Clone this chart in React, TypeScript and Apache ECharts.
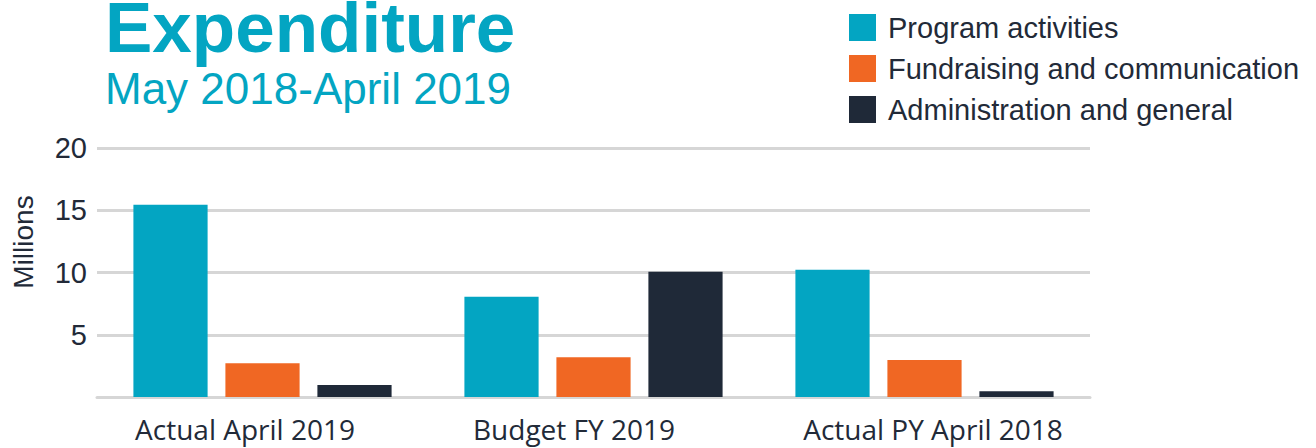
import React, { useEffect, useRef } from "react";
import * as echarts from "echarts";

const categories = ["Actual April 2019", "Budget FY 2019", "Actual PY April 2018"];
const seriesNames = ["Program activities", "Fundraising and communication", "Administration and general"];
const programValues = [15.45, 8.05, 10.22];
const fundraisingValues = [2.72, 3.2, 2.97];
const adminValues = [0.97, 10.07, 0.47];
const yTicks = [0, 5, 10, 15, 20];
const colors = ["#03A5C2", "#F06723", "#1F2938"];

const FONT = "'Liberation Sans', Arial, sans-serif";
const LABEL_FONT = "'Open Sans', 'Liberation Sans', sans-serif";
const TEXT = "#222a38";
const TEAL = "#03A5C2";

export default function App() {
  const ref = useRef<HTMLDivElement>(null);
  useEffect(() => {
    document.body.style.margin = "0";
    const chart = echarts.init(ref.current!, null, { renderer: "svg" });
    const values = [programValues, fundraisingValues, adminValues];
    const labelStyle = { fontSize: 28, color: TEXT, fontFamily: LABEL_FONT };
    chart.setOption({
      animation: false,
      textStyle: { fontFamily: FONT },
      grid: { left: 97, right: 226, top: 148, bottom: 51, containLabel: false },
      legend: {
        orient: "vertical",
        left: 849,
        top: 13,
        itemWidth: 27,
        itemHeight: 27,
        itemGap: 12,
        padding: 0,
        icon: "rect",
        data: seriesNames,
        textStyle: { fontSize: 29, lineHeight: 27, color: TEXT, fontFamily: FONT, padding: [0, 0, 0, 7] },
      },
      xAxis: {
        type: "category",
        data: categories,
        axisTick: { show: false },
        axisLine: { lineStyle: { color: "#d6d6d6", width: 3 } },
        axisLabel: {
          ...labelStyle,
          margin: 18,
          interval: 0,
          formatter: (v: string, i: number) => `{${["a", "b", "c"][i]}|${v}}`,
          rich: {
            a: { ...labelStyle, padding: [0, 35, 0, 0] },
            b: { ...labelStyle, padding: [0, 39, 0, 0] },
            c: { ...labelStyle, padding: [0, 0, 0, 17] },
          },
        },
      },
      yAxis: {
        type: "value",
        min: yTicks[0],
        max: yTicks[yTicks.length - 1],
        interval: 5,
        axisLine: { show: false },
        axisTick: { show: false },
        splitLine: { lineStyle: { color: "#d6d6d6", width: 3 } },
        axisLabel: {
          fontSize: 29,
          color: TEXT,
          margin: 10,
          fontFamily: FONT,
          formatter: (v: number) => (v === 0 ? "" : String(v)),
        },
      },
      graphic: [
        {
          type: "text",
          x: 105,
          y: 27,
          style: {
            text: "Expenditure",
            font: `bold 71px ${FONT}`,
            fill: TEAL,
            align: "left",
            verticalAlign: "middle",
          },
        },
        {
          type: "text",
          x: 105,
          y: 88,
          style: {
            text: "May 2018-April 2019",
            font: `44px ${FONT}`,
            fill: TEAL,
            align: "left",
            verticalAlign: "middle",
          },
        },
        {
          type: "text",
          x: 23,
          y: 242,
          rotation: Math.PI / 2,
          style: {
            text: "Millions",
            font: `28px ${FONT}`,
            fill: TEXT,
            align: "center",
            verticalAlign: "middle",
          },
        },
      ],
      series: seriesNames.map((name, i) => ({
        name,
        type: "bar",
        data: values[i],
        barGap: "24%",
        barCategoryGap: "22%",
        itemStyle: { color: colors[i] },
      })),
    });
    return () => chart.dispose();
  }, []);
  return <div ref={ref} style={{ width: 1316, height: 448 }} />;
}
